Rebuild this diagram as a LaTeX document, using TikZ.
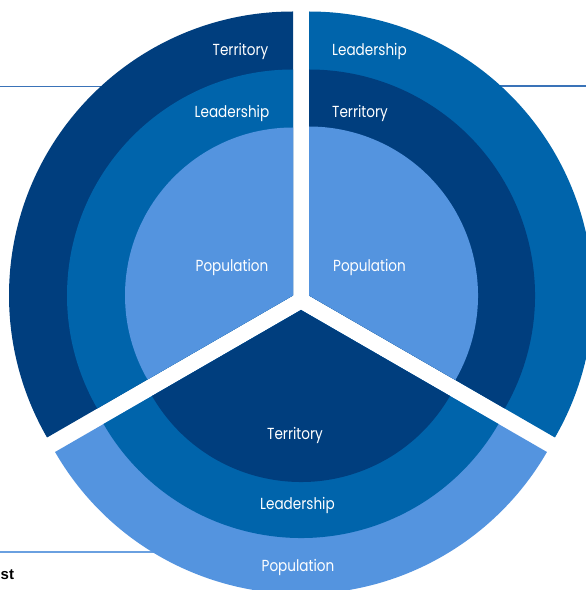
\documentclass[tikz,border=0pt]{standalone}
\usepackage{fontspec}
\setmainfont{Poppins}[FakeStretch=0.85]
\newfontfamily\labelfont{Liberation Sans}
\definecolor{navy}{HTML}{003E7E}
\definecolor{midblue}{HTML}{0064AB}
\definecolor{lightblue}{HTML}{5494DF}
\definecolor{linemid}{HTML}{3A73B8}
\definecolor{linelight}{HTML}{6AA0E0}
\begin{document}
\begin{tikzpicture}[x=1pt,y=1pt,
  lbl/.style={text=white,font=\fontsize{16}{18}\selectfont,inner sep=0pt,anchor=base},
  rule/.style={line width=1.3pt}]
\useasboundingbox (0,0) rectangle (586,590);
% guide lines (behind)
\coordinate (l1a) at (0,503.5);
\coordinate (l1b) at (150,503.5);
\coordinate (l2a) at (460,504);
\coordinate (l2b) at (586,504);
\coordinate (l3a) at (0,38);
\coordinate (l3b) at (170,38);
\draw[rule,linemid] (l1a) -- (l1b);
\draw[rule,linemid] (l2a) -- (l2b);
\draw[rule,linelight] (l3a) -- (l3b);
% sector centres
\coordinate (ctl) at (293,294.5);
\coordinate (ctr) at (309,294.5);
\coordinate (cb) at (301,280);
% top-left sector
\fill[navy] (ctl) -- ++(90:284) arc[start angle=90,end angle=210,radius=284] -- cycle;
\fill[midblue] (ctl) -- ++(90:226) arc[start angle=90,end angle=210,radius=226] -- cycle;
\fill[lightblue] (ctl) -- ++(90:168) arc[start angle=90,end angle=210,radius=168] -- cycle;
% top-right sector
\fill[midblue] (ctr) -- ++(-30:284) arc[start angle=-30,end angle=90,radius=284] -- cycle;
\fill[navy] (ctr) -- ++(-30:226) arc[start angle=-30,end angle=90,radius=226] -- cycle;
\fill[lightblue] (ctr) -- ++(-30:169) arc[start angle=-30,end angle=90,radius=169] -- cycle;
% bottom sector
\fill[lightblue] (cb) -- ++(210:284) arc[start angle=210,end angle=330,radius=284] -- cycle;
\fill[midblue] (cb) -- ++(210:228) arc[start angle=210,end angle=330,radius=228] -- cycle;
\fill[navy] (cb) -- ++(210:172) arc[start angle=210,end angle=330,radius=172] -- cycle;
% labels top-left
\node[lbl] (tlT) at (240.5,534) {Territory};
\node[lbl] (tlL) at (232,472) {Leadership};
\node[lbl] (tlP) at (232,318) {Population};
% labels top-right
\node[lbl] (trL) at (369.5,534) {Leadership};
\node[lbl] (trT) at (360,472) {Territory};
\node[lbl] (trP) at (369.5,318) {Population};
% labels bottom
\node[lbl] (bT) at (295,150) {Territory};
\node[lbl] (bL) at (297.5,80) {Leadership};
\node[lbl] (bP) at (298,18) {Population};
% partly shown text at the left edge
\node[anchor=base west,inner sep=0pt,font=\labelfont\bfseries\fontsize{15}{17}\selectfont] (st) at (0.5,10) {st};
\end{tikzpicture}
\end{document}
